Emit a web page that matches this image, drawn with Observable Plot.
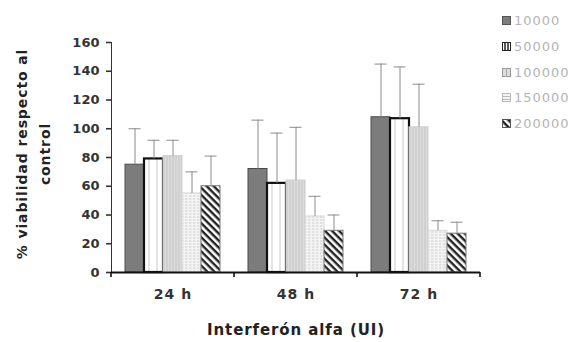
<!DOCTYPE html>
<html>
<head>
<meta charset="utf-8">
<script src="https://cdn.jsdelivr.net/npm/d3@7"></script>
<script src="https://cdn.jsdelivr.net/npm/@observablehq/plot@0.6"></script>
<style>
  html, body { margin: 0; padding: 0; background: white; }
  #wrap { position: relative; width: 576px; height: 342px; overflow: hidden; }
  #ylab { position: absolute; left: 34px; top: 154px; transform: translate(-50%, -50%) rotate(-90deg);
          font-family: "DejaVu Sans", sans-serif; font-weight: bold; font-size: 14px; letter-spacing: 0.9px; color: #222;
          text-align: center; white-space: nowrap; line-height: 23px; }
  #legend { position: absolute; left: 502px; top: 8px; font-family: "DejaVu Sans", sans-serif;
            font-size: 13px; color: #b4b4b4; letter-spacing: 1px; }
  #legend .row { height: 25.7px; display: flex; align-items: center; }
  #legend svg { margin-right: 3px; }
  g[aria-label^="y-axis"] path, g[aria-label^="y-axis"] line { stroke-width: 1.6; }
  g[aria-label="fx-axis label"] text { font-size: 15px !important; letter-spacing: 0.9px; fill: #222; }
  g[aria-label="fx-axis tick label"] text { font-size: 14px !important; letter-spacing: 1px; }
  g[aria-label="y-axis tick label"] text { font-size: 13px !important; }
</style>
</head>
<body>
<div id="wrap">
  <div id="chart"></div>
  <div id="ylab">% viabilidad respecto al<br>control</div>
  <div id="legend"></div>
</div>
<script>
const times = ["24 h", "48 h", "72 h"];
const doses = ["10000", "50000", "100000", "150000", "200000"];
// mean % viability per time, in order of doses
const mean24 = [75, 79, 81, 55, 60];
const mean48 = [72, 62, 64, 39, 29];
const mean72 = [108, 107, 101, 29, 27];
// standard deviation (upper error bar length)
const sd24 = [25, 13, 11, 15, 21];
const sd48 = [34, 35, 37, 14, 11];
const sd72 = [37, 36, 30, 7, 8];
const yTicks = [0, 20, 40, 60, 80, 100, 120, 140, 160];

const means = [mean24, mean48, mean72];
const sds = [sd24, sd48, sd72];
const data = times.flatMap((t, i) => doses.map((d, j) => ({time: t, dose: d, mean: means[i][j], sd: sds[i][j]})));

const fills = {"10000": "#7c7c7c", "50000": "url(#p50)", "100000": "url(#p100)", "150000": "url(#p150)", "200000": "url(#p200)"};
const strokes = {"10000": "#4a4a4a", "50000": "#111", "100000": "#cfcfcf", "150000": "#d8d8d8", "200000": "#777"};
const strokeWidths = {"10000": 1, "50000": 2.2, "100000": 1, "150000": 1, "200000": 1};

const defs = `<defs>
  <pattern id="p50" patternUnits="userSpaceOnUse" width="8" height="8">
    <rect width="8" height="8" fill="white"/><line x1="4" y1="0" x2="4" y2="8" stroke="#c8c8c8" stroke-width="1"/>
  </pattern>
  <pattern id="p100" patternUnits="userSpaceOnUse" width="3" height="3">
    <rect width="3" height="3" fill="#dcdcdc"/><line x1="1" y1="0" x2="1" y2="3" stroke="#c4c4c4" stroke-width="1"/>
  </pattern>
  <pattern id="p150" patternUnits="userSpaceOnUse" width="4" height="3">
    <rect width="4" height="3" fill="#f4f4f4"/><line x1="0" y1="1" x2="2.5" y2="1" stroke="#cfcfcf" stroke-width="1"/>
  </pattern>
  <pattern id="p200" patternUnits="userSpaceOnUse" width="5" height="5" patternTransform="rotate(45)">
    <rect width="5" height="5" fill="white"/><rect x="0" y="0" width="5" height="2.4" fill="#222"/>
  </pattern>
</defs>`;

const plot = Plot.plot({
  width: 576,
  height: 342,
  marginLeft: 110,
  marginRight: 95,
  marginTop: 42,
  marginBottom: 70,
  style: {fontFamily: "DejaVu Sans, sans-serif", fontSize: "13px", fontWeight: "bold", color: "#333", background: "white", overflow: "visible"},
  fx: {domain: times, padding: 0, axis: "bottom", tickSize: 0, tickPadding: 17, label: "Interferón alfa (UI)", labelAnchor: "center", labelOffset: 62},
  x: {domain: doses, paddingInner: 0, paddingOuter: 0.7, axis: null},
  y: {domain: [0, 160], ticks: yTicks, tickSize: 5, tickPadding: 7, tickFormat: d3.format("d"), label: null, line: true},
  marks: [
    ...doses.map(dose => Plot.barY(data, {
      filter: d => d.dose === dose,
      fx: "time", x: "dose", y: "mean",
      fill: fills[dose], stroke: strokes[dose], strokeWidth: strokeWidths[dose]
    })),
    Plot.ruleX(data, {fx: "time", x: "dose", y1: "mean", y2: d => d.mean + d.sd, stroke: "#8a8a8a", strokeWidth: 1}),
    Plot.tickY(data, {fx: "time", x: "dose", y: d => d.mean + d.sd, stroke: "#8a8a8a", strokeWidth: 1, insetLeft: 3.5, insetRight: 3.5}),
    Plot.ruleY([0], {stroke: "#111", strokeWidth: 2})
  ]
});

plot.insertAdjacentHTML("afterbegin", defs);

// category-boundary ticks on the x axis, placed from the fx scale
const fx = plot.scale("fx");
const yS = plot.scale("y");
const y0 = yS.apply(0);
const edges = fx.domain.map(v => fx.apply(v)).concat([fx.apply(fx.domain[fx.domain.length - 1]) + fx.bandwidth]);
d3.select(plot).append("g").selectAll("line").data(edges).join("line")
  .attr("x1", d => d).attr("x2", d => d)
  .attr("y1", y0).attr("y2", y0 + 5)
  .attr("stroke", "#111").attr("stroke-width", 1.6);

document.getElementById("chart").appendChild(plot);

// legend
const legendPatterns = {
  "10000": `<rect x="0.5" y="0.5" width="8" height="8" fill="#7c7c7c" stroke="#555"/>`,
  "50000": `<rect x="0.5" y="0.5" width="8" height="8" fill="white" stroke="#222" stroke-width="1"/><line x1="3" y1="0" x2="3" y2="9" stroke="#222" stroke-width="1.5"/><line x1="6" y1="0" x2="6" y2="9" stroke="#222" stroke-width="1.5"/>`,
  "100000": `<rect x="0.5" y="0.5" width="8" height="8" fill="#dcdcdc" stroke="#999"/><line x1="4.5" y1="0" x2="4.5" y2="9" stroke="#aaa"/>`,
  "150000": `<rect x="0.5" y="0.5" width="8" height="8" fill="#f4f4f4" stroke="#bbb"/><line x1="0" y1="3.5" x2="9" y2="3.5" stroke="#bbb"/><line x1="0" y1="6.5" x2="9" y2="6.5" stroke="#bbb"/>`,
  "200000": `<rect x="0.5" y="0.5" width="8" height="8" fill="url(#p200)" stroke="#555"/>`
};
const legend = document.getElementById("legend");
doses.forEach(d => {
  const row = document.createElement("div");
  row.className = "row";
  row.innerHTML = `<svg width="9" height="9">${legendPatterns[d]}</svg><span>${d}</span>`;
  legend.appendChild(row);
});
</script>
</body>
</html>
